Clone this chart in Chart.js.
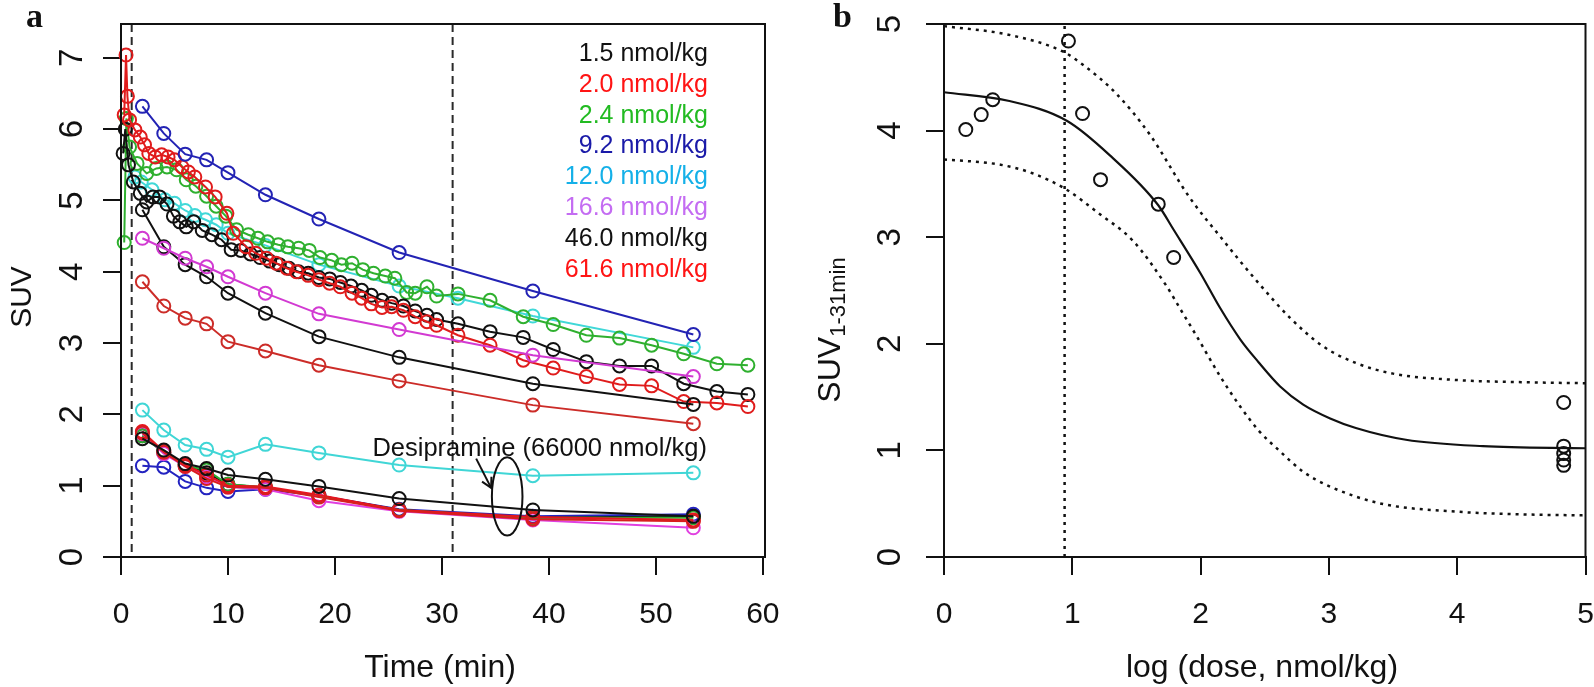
<!DOCTYPE html>
<html>
<head>
<meta charset="utf-8">
<script src="https://cdn.jsdelivr.net/npm/chart.js@4.4.1/dist/chart.umd.min.js"></script>
<style>
html, body { margin: 0; padding: 0; background: #fff; overflow: hidden; }
#wrap { position: relative; width: 1594px; height: 687px; }
canvas { position: absolute; top: 0; }
</style>
</head>
<body>
<div id="wrap">
  <canvas id="chartA" width="797" height="687" style="left:0"></canvas>
  <canvas id="chartB" width="797" height="687" style="left:797px"></canvas>
</div>
<script>
// ---------- panel a : SUV time courses ----------
const frameTimes = [2, 4, 6, 8, 10, 13.5, 18.5, 26, 38.5, 53.5];

// sparse (frame) series, baseline scans
const suvBlue92  = [6.32, 5.94, 5.65, 5.57, 5.39, 5.08, 4.74, 4.27, 3.73, 3.12];
const suvMag166  = [4.47, 4.33, 4.19, 4.07, 3.93, 3.70, 3.41, 3.19, 2.83, 2.53];
const suvBlk460  = [4.87, 4.35, 4.10, 3.93, 3.70, 3.42, 3.09, 2.80, 2.43, 2.14];
const suvRed616  = [3.86, 3.52, 3.35, 3.27, 3.02, 2.89, 2.69, 2.47, 2.13, 1.87];

// dense series
const tRed20   = [0.3, 0.47, 0.6, 0.8, 1.3, 1.8, 2.2, 2.6, 3.2, 3.8, 4.4, 5.0, 5.7, 6.3, 6.9, 7.9, 8.8, 9.9, 10.5, 11.7, 12.6, 13.6, 14.5, 15.5, 16.4, 17.5, 18.5, 19.5, 20.5, 21.6, 22.5, 23.4, 24.4, 25.3, 26.4, 27.5, 28.6, 29.5, 31.5, 34.5, 37.6, 40.4, 43.5, 46.6, 49.6, 52.6, 55.7, 58.6];
const suvRed20 = [6.2, 7.04, 6.46, 6.13, 5.99, 5.89, 5.78, 5.66, 5.61, 5.64, 5.61, 5.57, 5.47, 5.40, 5.33, 5.19, 5.05, 4.82, 4.54, 4.35, 4.26, 4.19, 4.12, 4.05, 4.00, 3.95, 3.89, 3.84, 3.79, 3.70, 3.63, 3.55, 3.50, 3.51, 3.46, 3.37, 3.30, 3.25, 3.11, 2.97, 2.76, 2.65, 2.53, 2.42, 2.40, 2.18, 2.16, 2.11];

const tGrn24   = [0.3, 0.5, 0.8, 1.5, 2.4, 3.3, 4.3, 5.2, 6.1, 7.0, 8.0, 8.9, 9.8, 10.8, 11.9, 12.8, 13.7, 14.7, 15.6, 16.6, 17.6, 18.6, 19.7, 20.6, 21.6, 22.6, 23.6, 24.7, 25.6, 26.7, 27.5, 28.6, 29.5, 31.5, 34.5, 37.6, 40.4, 43.5, 46.6, 49.6, 52.6, 55.7, 58.6];
const suvGrn24 = [4.41, 6.15, 5.75, 5.52, 5.38, 5.45, 5.47, 5.43, 5.29, 5.20, 5.06, 4.92, 4.78, 4.59, 4.52, 4.47, 4.42, 4.38, 4.35, 4.33, 4.30, 4.20, 4.16, 4.10, 4.12, 4.03, 3.98, 3.94, 3.91, 3.71, 3.70, 3.79, 3.66, 3.69, 3.60, 3.37, 3.26, 3.11, 3.07, 2.97, 2.85, 2.71, 2.69];

const tBlk15   = [0.2, 0.4, 0.7, 1.15, 1.8, 2.4, 3.0, 3.6, 4.3, 4.9, 5.5, 6.1, 6.8, 7.6, 8.5, 9.4, 10.3, 11.2, 12.1, 13.0, 13.9, 14.8, 15.7, 16.6, 17.5, 18.5, 19.5, 20.5, 21.5, 22.5, 23.4, 24.4, 25.3, 26.4, 27.5, 28.6, 29.5, 31.5, 34.5, 37.6, 40.4, 43.5, 46.6, 49.6, 52.6, 55.7, 58.6];
const suvBlk15 = [5.66, 6.0, 5.5, 5.26, 5.10, 4.98, 5.05, 5.05, 4.95, 4.78, 4.70, 4.63, 4.70, 4.58, 4.52, 4.45, 4.31, 4.30, 4.25, 4.20, 4.15, 4.10, 4.05, 4.00, 3.98, 3.92, 3.90, 3.85, 3.80, 3.74, 3.67, 3.60, 3.56, 3.52, 3.45, 3.39, 3.33, 3.27, 3.16, 3.08, 2.91, 2.74, 2.68, 2.68, 2.43, 2.32, 2.28];

const tCyn120   = [1.3, 1.9, 2.9, 4.1, 5.0, 6.0, 6.9, 7.9, 8.9, 10.0, 13.5, 18.5, 26, 31.5, 38.5, 53.5];
const suvCyn120 = [5.33, 5.26, 5.15, 5.01, 4.96, 4.86, 4.79, 4.73, 4.66, 4.54, 4.37, 4.10, 3.80, 3.63, 3.38, 2.94];

// desipramine blocked scans (same frames)
const lowBlk15  = [1.66, 1.50, 1.31, 1.24, 1.15, 1.09, 0.99, 0.82, 0.66, 0.57];
const lowRed20  = [1.76, 1.48, 1.29, 1.15, 1.00, 0.99, 0.87, 0.66, 0.56, 0.52];
const lowGrn24  = [1.70, 1.46, 1.28, 1.22, 1.02, 0.98, 0.85, 0.66, 0.55, 0.55];
const lowBlue92 = [1.28, 1.26, 1.06, 0.97, 0.92, 0.95, 0.86, 0.67, 0.57, 0.60];
const lowCyn120 = [2.06, 1.78, 1.57, 1.51, 1.40, 1.58, 1.46, 1.29, 1.14, 1.18];
const lowMag166 = [1.73, 1.45, 1.27, 1.12, 0.98, 0.95, 0.79, 0.64, 0.52, 0.41];
const lowBlk460 = [1.70, 1.47, 1.30, 1.18, 1.02, 0.97, 0.86, 0.66, 0.55, 0.57];
const lowRed616 = [1.74, 1.47, 1.27, 1.10, 0.98, 0.97, 0.84, 0.65, 0.53, 0.50];

const legendLabels = ['1.5 nmol/kg', '2.0 nmol/kg', '2.4 nmol/kg', '9.2 nmol/kg', '12.0 nmol/kg', '16.6 nmol/kg', '46.0 nmol/kg', '61.6 nmol/kg'];
const legendColors = ['#111111', '#ff1414', '#22bb22', '#1a1aa8', '#14b0e8', '#c46cf2', '#111111', '#ff1414'];

const xTicksA = [0, 10, 20, 30, 40, 50, 60];
const yTicksA = [0, 1, 2, 3, 4, 5, 6, 7];
const markerTimes = [1, 31];   // dashed vertical lines

// ---------- panel b : dose response ----------
const logDose = [0.17, 0.29, 0.38, 0.97, 1.08, 1.22, 1.67, 1.79, 4.83, 4.83, 4.83, 4.83, 4.83];
const suvMean = [4.01, 4.15, 4.29, 4.84, 4.16, 3.54, 3.31, 2.81, 1.45, 1.04, 0.97, 0.91, 0.86];

const fitX   = [0, 0.5, 0.96, 1.3, 1.67, 1.79, 2.0, 2.15, 2.31, 2.45, 2.62, 2.8, 3.01, 3.21, 3.6, 4.2, 5];
const fitY   = [4.36, 4.28, 4.09, 3.76, 3.30, 3.07, 2.66, 2.34, 2.04, 1.83, 1.60, 1.43, 1.30, 1.21, 1.10, 1.04, 1.02];
const upperX = [0, 0.5, 0.93, 1.08, 1.34, 1.6, 1.91, 2.17, 2.43, 2.7, 2.95, 3.21, 3.5, 4.0, 4.5, 5];
const upperY = [4.98, 4.90, 4.74, 4.62, 4.35, 3.97, 3.38, 2.98, 2.60, 2.24, 1.98, 1.82, 1.72, 1.66, 1.64, 1.63];
const lowerX = [0, 0.44, 0.69, 0.95, 1.21, 1.47, 1.73, 1.85, 1.97, 2.15, 2.31, 2.45, 2.62, 2.8, 3.01, 3.41, 4.0, 4.5, 5];
const lowerY = [3.73, 3.68, 3.60, 3.45, 3.22, 2.97, 2.55, 2.31, 2.07, 1.70, 1.41, 1.19, 0.99, 0.80, 0.66, 0.50, 0.425, 0.40, 0.39];
const ed50Line = 0.94;

const xTicksB = [0, 1, 2, 3, 4, 5];
const yTicksB = [0, 1, 2, 3, 4, 5];

// ---------- helpers ----------
const SANS = '"Liberation Sans", Arial, sans-serif';
const INK = '#111111';

function pts(xs, ys) { return xs.map((x, i) => ({ x: x, y: ys[i] })); }

function series(xs, ys, color) {
  return {
    data: pts(xs, ys),
    borderColor: color,
    borderWidth: 2,
    pointRadius: 6.5,
    pointBorderWidth: 2,
    pointBorderColor: color,
    pointBackgroundColor: 'rgba(0,0,0,0)',
    fill: false,
    tension: 0,
    clip: false
  };
}

function vtext(ctx, str, x, y) {
  ctx.save();
  ctx.translate(x, y);
  ctx.rotate(-Math.PI / 2);
  ctx.textAlign = 'center';
  ctx.textBaseline = 'alphabetic';
  ctx.fillText(str, 0, 0);
  ctx.restore();
}

function axisOpts(min, max, ticks, fitSize, horizontal) {
  return {
    type: 'linear',
    min: min,
    max: max,
    afterBuildTicks: s => { s.ticks = ticks.map(v => ({ value: v })); },
    afterFit: s => { if (horizontal) s.height = fitSize; else s.width = fitSize; },
    ticks: { display: false },
    grid: { display: true, drawOnChartArea: false, drawTicks: true, tickLength: 18, color: INK, lineWidth: 2 },
    border: { display: true, color: INK, width: 2 }
  };
}

// draws box, tick labels, titles
function frame(ctx, chart, opt) {
  const ca = chart.chartArea;
  const sx = chart.scales.x, sy = chart.scales.y;
  ctx.save();
  ctx.strokeStyle = INK;
  ctx.lineWidth = 2;
  ctx.strokeRect(ca.left, ca.top, ca.right - ca.left, ca.bottom - ca.top);
  ctx.fillStyle = INK;
  ctx.font = '30px ' + SANS;
  ctx.textAlign = 'center';
  ctx.textBaseline = 'alphabetic';
  sx.ticks.forEach(t => ctx.fillText(String(t.value), sx.getPixelForValue(t.value), 623));
  ctx.font = '33px ' + SANS;
  sy.ticks.forEach(t => vtext(ctx, String(t.value), opt.yLabelX, sy.getPixelForValue(t.value)));
  ctx.font = '32px ' + SANS;
  ctx.fillText(opt.xTitle, opt.xTitleX, 677);
  ctx.font = 'bold 34px "Liberation Serif", serif';
  ctx.textAlign = 'left';
  ctx.fillText(opt.panel, opt.panelX, 27);
  ctx.restore();
}

// ---------- chart a ----------
const desiLabel = 'Desipramine (66000 nmol/kg)';
const desiAt = [23.5, 1.42];
const ringAt = [36.1, 0.85], ringR = [1.43, 0.55];
const arrowFrom = [33.2, 1.38], arrowTo = [34.6, 0.97];

const plotA = {
  id: 'plotA',
  beforeDatasetsDraw(chart) {
    const ctx = chart.ctx, ca = chart.chartArea, sx = chart.scales.x;
    ctx.save();
    ctx.strokeStyle = '#2a2a2a';
    ctx.lineWidth = 2;
    ctx.setLineDash([8, 5]);
    markerTimes.forEach(t => {
      const px = sx.getPixelForValue(t);
      ctx.beginPath(); ctx.moveTo(px, ca.top); ctx.lineTo(px, ca.bottom); ctx.stroke();
    });
    ctx.restore();
  },
  afterDraw(chart) {
    const ctx = chart.ctx, sx = chart.scales.x, sy = chart.scales.y;
    frame(ctx, chart, { yLabelX: 82, xTitle: 'Time (min)', xTitleX: 440, panel: 'a', panelX: 26 });
    ctx.save();
    ctx.fillStyle = INK;
    ctx.font = '30px ' + SANS;
    vtext(ctx, 'SUV', 31, 297);
    // dose legend
    ctx.font = '25px ' + SANS;
    ctx.textAlign = 'right';
    legendLabels.forEach((lab, i) => {
      ctx.fillStyle = legendColors[i];
      ctx.fillText(lab, 708, 61 + i * 30.8);
    });
    // desipramine annotation
    ctx.fillStyle = INK;
    ctx.textAlign = 'left';
    ctx.font = '25.5px ' + SANS;
    ctx.fillText(desiLabel, sx.getPixelForValue(desiAt[0]), sy.getPixelForValue(desiAt[1]));
    const cx = sx.getPixelForValue(ringAt[0]), cy = sy.getPixelForValue(ringAt[1]);
    const rx = sx.getPixelForValue(ringAt[0] + ringR[0]) - cx;
    const ry = cy - sy.getPixelForValue(ringAt[1] + ringR[1]);
    ctx.strokeStyle = INK;
    ctx.lineWidth = 2;
    ctx.beginPath(); ctx.ellipse(cx, cy, rx, ry, 0, 0, Math.PI * 2); ctx.stroke();
    const ax = sx.getPixelForValue(arrowFrom[0]), ay = sy.getPixelForValue(arrowFrom[1]);
    const bx = sx.getPixelForValue(arrowTo[0]), by = sy.getPixelForValue(arrowTo[1]);
    ctx.beginPath(); ctx.moveTo(ax, ay); ctx.lineTo(bx, by); ctx.stroke();
    const ang = Math.atan2(by - ay, bx - ax);
    ctx.beginPath();
    ctx.moveTo(bx - 11 * Math.cos(ang - 0.5), by - 11 * Math.sin(ang - 0.5));
    ctx.lineTo(bx, by);
    ctx.lineTo(bx - 11 * Math.cos(ang + 0.5), by - 11 * Math.sin(ang + 0.5));
    ctx.stroke();
    ctx.restore();
  }
};

new Chart(document.getElementById('chartA'), {
  type: 'line',
  data: {
    datasets: [
      series(frameTimes, suvBlue92, '#2323b4'),
      series(frameTimes, suvMag166, '#d23ad2'),
      series(frameTimes, suvBlk460, INK),
      series(frameTimes, suvRed616, '#cc2c28'),
      series(frameTimes, lowBlk15, INK),
      series(frameTimes, lowRed616, '#d81e1e'),
      series(frameTimes, lowRed20, '#e8141e'),
      series(frameTimes, lowMag166, '#e040e0'),
      series(frameTimes, lowGrn24, '#2fae2f'),
      series(frameTimes, lowBlk460, INK),
      series(frameTimes, lowBlue92, '#2323c0'),
      series(frameTimes, lowCyn120, '#40d6d6'),
      series(tRed20, suvRed20, '#e01c1c'),
      series(tBlk15, suvBlk15, INK),
      series(tGrn24, suvGrn24, '#2fb02f'),
      series(tCyn120, suvCyn120, '#40d8d8')
    ]
  },
  options: {
    responsive: false,
    animation: false,
    layout: { padding: { left: 0, right: 32, top: 24, bottom: 0 } },
    plugins: { legend: { display: false }, tooltip: { enabled: false } },
    scales: {
      x: axisOpts(0, 60.2, xTicksA, 130, true),
      y: axisOpts(0, 7.475, yTicksA, 121, false)
    }
  },
  plugins: [plotA]
});

// ---------- chart b ----------
const plotB = {
  id: 'plotB',
  beforeDatasetsDraw(chart) {
    const ctx = chart.ctx, ca = chart.chartArea, sx = chart.scales.x;
    const px = sx.getPixelForValue(ed50Line);
    ctx.save();
    ctx.strokeStyle = INK;
    ctx.lineWidth = 2.5;
    ctx.setLineDash([3, 5]);
    ctx.beginPath(); ctx.moveTo(px, ca.bottom); ctx.lineTo(px, ca.top); ctx.stroke();
    ctx.restore();
  },
  afterDraw(chart) {
    const ctx = chart.ctx;
    frame(ctx, chart, { yLabelX: 103, xTitle: 'log (dose, nmol/kg)', xTitleX: 465, panel: 'b', panelX: 36 });
    // y title with subscript
    ctx.save();
    ctx.fillStyle = INK;
    ctx.translate(43, 330);
    ctx.rotate(-Math.PI / 2);
    ctx.textBaseline = 'alphabetic';
    ctx.textAlign = 'left';
    ctx.font = '32px ' + SANS;
    const w1 = ctx.measureText('SUV').width;
    ctx.font = '22px ' + SANS;
    const w2 = ctx.measureText('1-31min').width;
    const start = -(w1 + w2) / 2;
    ctx.font = '32px ' + SANS;
    ctx.fillText('SUV', start, 0);
    ctx.font = '22px ' + SANS;
    ctx.fillText('1-31min', start + w1, 5);
    ctx.restore();
  }
};

function curve(xs, ys, dash) {
  return {
    data: pts(xs, ys),
    borderColor: INK,
    borderWidth: dash ? 2.5 : 2.2,
    borderDash: dash ? [3, 5] : [],
    pointRadius: 0,
    fill: false,
    cubicInterpolationMode: 'monotone',
    clip: false
  };
}

new Chart(document.getElementById('chartB'), {
  type: 'line',
  data: {
    datasets: [
      {
        data: pts(logDose, suvMean),
        showLine: false,
        pointRadius: 6.5,
        pointBorderWidth: 2,
        pointBorderColor: INK,
        pointBackgroundColor: 'rgba(0,0,0,0)',
        clip: false
      },
      curve(fitX, fitY, false),
      curve(upperX, upperY, true),
      curve(lowerX, lowerY, true)
    ]
  },
  options: {
    responsive: false,
    animation: false,
    layout: { padding: { left: 0, right: 7, top: 24, bottom: 0 } },
    plugins: { legend: { display: false }, tooltip: { enabled: false } },
    scales: {
      x: axisOpts(0, 5, xTicksB, 130, true),
      y: axisOpts(0, 5, yTicksB, 147, false)
    }
  },
  plugins: [plotB]
});
</script>
</body>
</html>
